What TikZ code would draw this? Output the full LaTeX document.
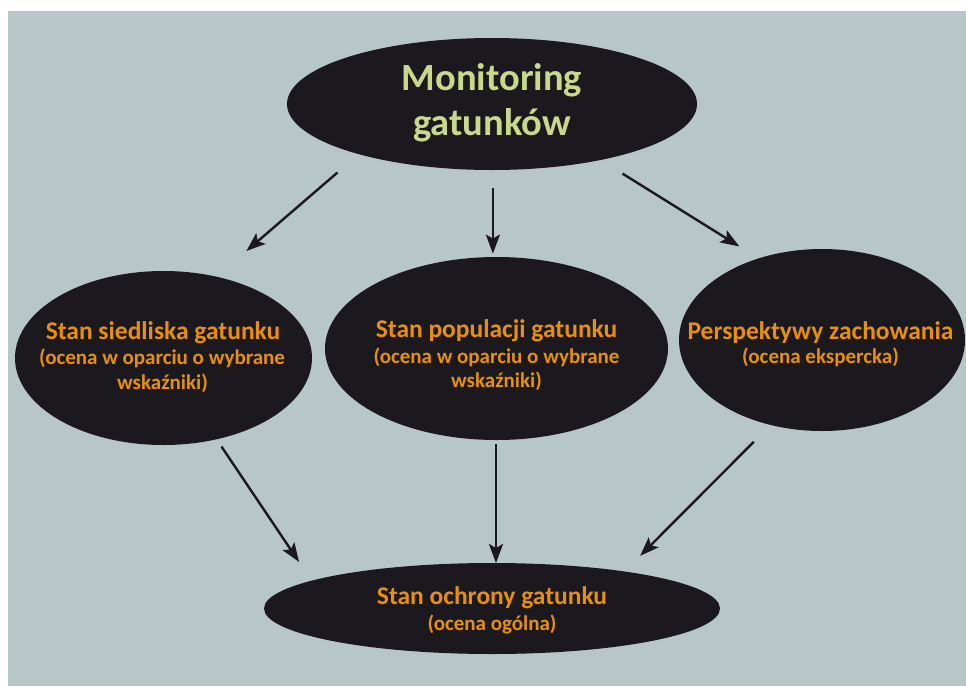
\documentclass[tikz,border=0pt]{standalone}
\usepackage{fontspec}
\setmainfont{Carlito}
\usetikzlibrary{shapes.geometric,arrows.meta}
\definecolor{bgc}{HTML}{B7C6C6}
\definecolor{ellc}{HTML}{1B191D}
\definecolor{greenc}{HTML}{C9D88B}
\definecolor{orangec}{HTML}{E8900D}
\tikzset{
  blob/.style={ellipse, fill=ellc, draw=none, inner sep=0pt},
  title/.style={anchor=base, inner sep=0pt, text=greenc, font=\bfseries\fontsize{38.5}{46}\selectfont},
  head/.style={anchor=base, inner sep=0pt, text=orangec, font=\bfseries\fontsize{25.5}{30}\selectfont},
  sub/.style={anchor=base, inner sep=0pt, text=orangec, font=\bfseries\fontsize{21}{25}\selectfont},
  arr/.style={line width=2.4pt, draw=ellc, -{Stealth[length=19pt,width=14pt,inset=4pt]}}
}
\begin{document}
\begin{tikzpicture}[x=1pt,y=-1pt]
\useasboundingbox (0,0) rectangle (966,686);
\fill[bgc] (8,11) rectangle (966,686);

\node[blob, minimum width=410pt, minimum height=132pt] (top) at (492,104) {};
\node[blob, minimum width=297pt, minimum height=174pt] (left) at (163.5,358) {};
\node[blob, minimum width=343pt, minimum height=183pt] (mid) at (496.5,348.5) {};
\node[blob, minimum width=286pt, minimum height=182pt] (right) at (822,340) {};
\node[blob, minimum width=456pt, minimum height=91pt] (bot) at (492,608.5) {};

\node[title] (t1) at (492,90) {Monitoring};
\node[title] (t2) at (492,135) {gatunków};

\node[head] (l1) at (163,339) {Stan siedliska gatunku};
\node[sub] (l2) at (162,364) {(ocena w oparciu o wybrane};
\node[sub] (l3) at (162.5,389) {wskaźniki)};

\node[head] (m1) at (496.5,337) {Stan populacji gatunku};
\node[sub] (m2) at (496.5,363) {(ocena w oparciu o wybrane};
\node[sub] (m3) at (496.5,387) {wskaźniki)};

\node[head] (r1) at (820.5,339) {Perspektywy zachowania};
\node[sub] (r2) at (820.5,363) {(ocena ekspercka)};

\node[head] (b1) at (492,604) {Stan ochrony gatunku};
\node[sub] (b2) at (492,630) {(ocena ogólna)};

\coordinate (a1s) at (337.5,172.5);
\coordinate (a1e) at (246.4,251);
\coordinate (a2s) at (492.9,187.9);
\coordinate (a2e) at (492.9,253.6);
\coordinate (a3s) at (622.5,173.6);
\coordinate (a3e) at (739.3,246.4);
\coordinate (a4s) at (221.5,446.6);
\coordinate (a4e) at (299.1,562);
\coordinate (a5s) at (496,444);
\coordinate (a5e) at (496,563);
\coordinate (a6s) at (753.8,441.8);
\coordinate (a6e) at (640.2,555.8);

\draw[arr] (a1s) -- (a1e);
\draw[arr] (a2s) -- (a2e);
\draw[arr] (a3s) -- (a3e);
\draw[arr] (a4s) -- (a4e);
\draw[arr] (a5s) -- (a5e);
\draw[arr] (a6s) -- (a6e);
\end{tikzpicture}
\end{document}
